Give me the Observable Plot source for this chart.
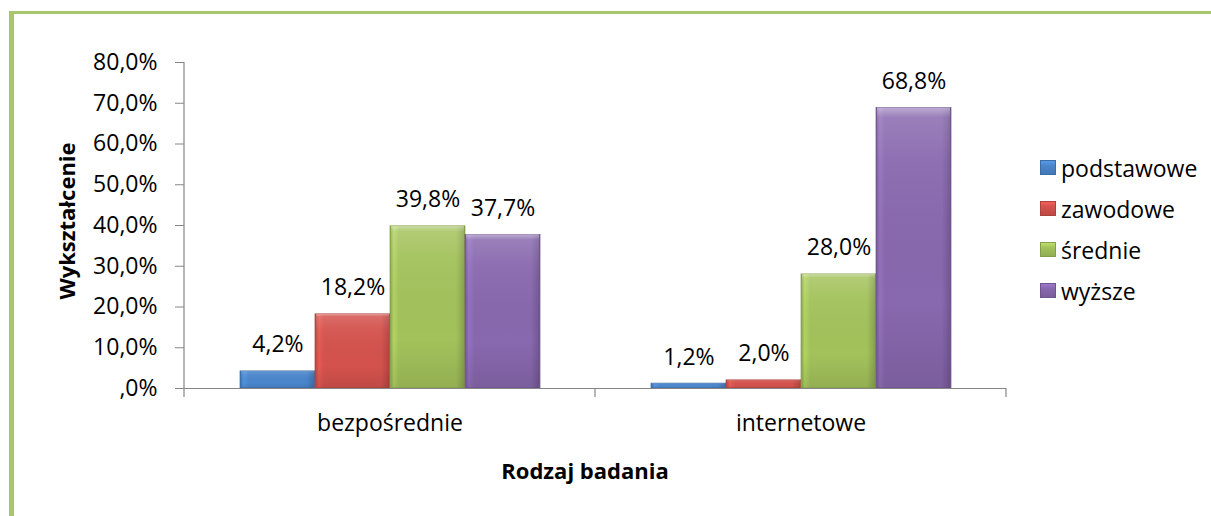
<!DOCTYPE html>
<html><head><meta charset="utf-8">
<script src="https://cdn.jsdelivr.net/npm/d3@7"></script>
<script src="https://cdn.jsdelivr.net/npm/@observablehq/plot@0.6"></script>
<style>
body{margin:0;width:1211px;height:516px;overflow:hidden;position:relative;background:#fff;font-family:"Open Sans",sans-serif;color:#000;}
#border{position:absolute;left:9px;top:11px;width:1400px;height:700px;border-left:5px solid #A9C66E;border-top:3px solid #A9C66E;}
#chart{position:absolute;left:0;top:0;}
.title{position:absolute;font-weight:bold;font-size:22px;white-space:nowrap;}
#ytitle{left:66px;top:221px;transform:translate(-50%,-50%) rotate(-90deg);}
#xtitle{left:585px;top:470px;transform:translate(-50%,-50%);}
#legend{position:absolute;left:1040px;top:147px;font-size:23px;}
.item{height:41px;display:flex;align-items:center;}
.sw{width:16px;height:15px;margin-right:5px;}
</style></head>
<body>
<div id="border"></div>
<div id="chart"></div>
<div class="title" id="ytitle">Wykształcenie</div>
<div class="title" id="xtitle">Rodzaj badania</div>
<div id="legend"></div>
<script>
const categories = ["bezpośrednie", "internetowe"];
const series = ["podstawowe", "zawodowe", "średnie", "wyższe"];
const bezposrednieValues = [4.2, 18.2, 39.8, 37.7];
const internetoweValues = [1.2, 2.0, 28.0, 68.8];
const yTicks = [0, 10, 20, 30, 40, 50, 60, 70, 80];
const palette = ["#4A86CC", "#D4524D", "#A3C25B", "#8868AE"];

const data = [];
[bezposrednieValues, internetoweValues].forEach((vals, i) =>
  vals.forEach((v, j) => data.push({cat: categories[i], series: series[j], value: v})));

const pct = v => v === 0 ? ",0%" : v.toFixed(1).replace(".", ",") + "%";
const dark = c => d3.color(c).darker(0.6).formatHex();

const chart = Plot.plot({
  width: 1211, height: 516,
  marginLeft: 184, marginRight: 205, marginTop: 62, marginBottom: 128,
  style: {fontFamily: "'Open Sans', sans-serif", fontSize: "23px", color: "#000", background: "transparent", overflow: "visible"},
  fx: {domain: categories, padding: 0, label: null},
  x: {domain: series, paddingInner: 0, paddingOuter: 0.72, axis: null},
  y: {domain: [0, 80], label: null},
  marks: [
    Plot.axisY(yTicks, {tickSize: 9, tickPadding: 18, tickFormat: pct, stroke: "#868686", fill: "#000", label: null, fontSize: 23}),
    Plot.axisFx({anchor: "bottom", tickSize: 0, tickPadding: 26, label: null, fontSize: 23, fill: "#000"}),
    ...series.map((s, i) => Plot.barY(data.filter(d => d.series === s),
      {fx: "cat", x: "series", y: "value", fill: `url(#g${i})`, stroke: dark(palette[i]), strokeWidth: 0.7})),
    Plot.barY(data, {fx: "cat", x: "series", y: "value", fill: "url(#hl)", insetLeft: 1, insetRight: 1}),
    Plot.text(data, {fx: "cat", x: "series", y: "value", text: d => pct(d.value), lineAnchor: "bottom", dy: -19, fontSize: 23, fill: "#000"}),
    Plot.ruleY([0], {stroke: "#868686", strokeWidth: 1.2})
  ]
});

const svg = d3.select(chart);
const defs = svg.insert("defs", ":first-child");
palette.forEach((c, i) => {
  const base = d3.color(c);
  const g = defs.append("linearGradient").attr("id", "g" + i).attr("x1", 0).attr("x2", 1).attr("y1", 0).attr("y2", 0);
  [[0, base.darker(0.5)], [0.05, base.brighter(0.25)], [0.12, base], [0.88, base], [0.95, base.darker(0.3)], [1, base.darker(0.6)]]
    .forEach(([o, col]) => g.append("stop").attr("offset", o).attr("stop-color", col.formatHex()));
});
const hl = defs.append("linearGradient").attr("id", "hl").attr("x1", 0).attr("x2", 0).attr("y1", 0).attr("y2", 1);
[[0, "#fff", 0.45], [0.035, "#fff", 0.15], [0.2, "#fff", 0.05], [0.7, "#000", 0], [1, "#000", 0.1]]
  .forEach(([o, col, op]) => hl.append("stop").attr("offset", o).attr("stop-color", col).attr("stop-opacity", op));

// axis line and category boundary ticks from the scales
const fx = chart.scale("fx"), y = chart.scale("y");
const x0 = fx.apply(categories[0]);
const y0 = y.apply(0), yTop = y.apply(yTicks[yTicks.length - 1]);
svg.append("line").attr("x1", x0).attr("x2", x0).attr("y1", yTop).attr("y2", y0).attr("stroke", "#868686").attr("stroke-width", 1.2);
const bounds = [...categories.map(c => fx.apply(c)), fx.apply(categories[categories.length - 1]) + fx.bandwidth];
bounds.forEach(b => svg.append("line").attr("x1", b).attr("x2", b).attr("y1", y0).attr("y2", y0 + 9).attr("stroke", "#868686").attr("stroke-width", 1.2));

document.getElementById("chart").append(chart);

const legend = d3.select("#legend");
series.forEach((s, i) => {
  const c = d3.color(palette[i]);
  const it = legend.append("div").attr("class", "item");
  it.append("div").attr("class", "sw").style("background", `linear-gradient(${c.brighter(0.4).formatHex()}, ${c.formatHex()} 35%, ${c.darker(0.3).formatHex()})`).style("border", `1px solid ${c.darker(0.6).formatHex()}`).style("box-sizing", "border-box");
  it.append("span").text(s);
});
</script>
</body></html>
